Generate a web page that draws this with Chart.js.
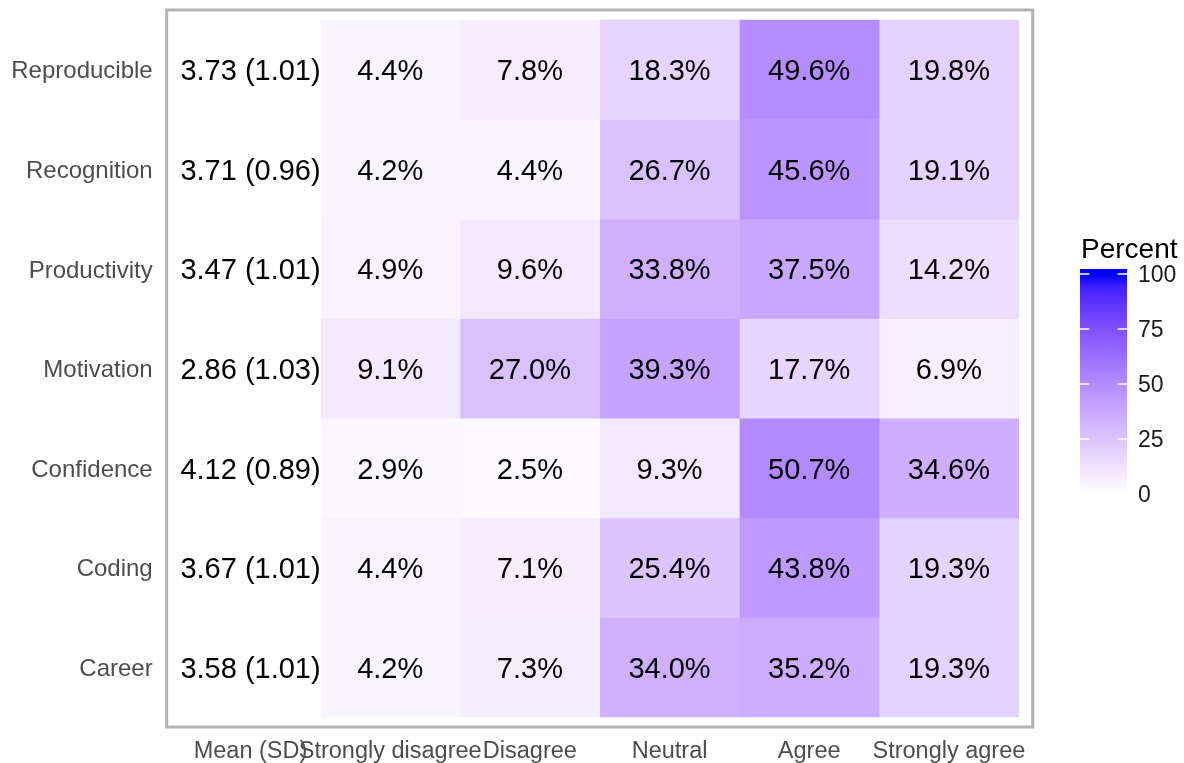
<!DOCTYPE html>
<html>
<head>
<meta charset="utf-8">
<script src="https://cdn.jsdelivr.net/npm/chart.js@4.4.1/dist/chart.umd.min.js"></script>
<style>
  body { margin: 0; background: #fff; }
  canvas { display: block; }
</style>
</head>
<body>
<canvas id="heat" width="1184" height="763"></canvas>
<script>
// Rows, bottom to top
const items = ['Career', 'Coding', 'Confidence', 'Motivation', 'Productivity', 'Recognition', 'Reproducible'];
const columns = ['Mean (SD)', 'Strongly disagree', 'Disagree', 'Neutral', 'Agree', 'Strongly agree'];

const means = [3.58, 3.67, 4.12, 2.86, 3.47, 3.71, 3.73];
const sds = [1.01, 1.01, 0.89, 1.03, 1.01, 0.96, 1.01];

const stronglyDisagree = [4.2, 4.4, 2.9, 9.1, 4.9, 4.2, 4.4];
const disagree = [7.3, 7.1, 2.5, 27.0, 9.6, 4.4, 7.8];
const neutral = [34.0, 25.4, 9.3, 39.3, 33.8, 26.7, 18.3];
const agree = [35.2, 43.8, 50.7, 17.7, 37.5, 45.6, 49.6];
const stronglyAgree = [19.3, 19.3, 34.6, 6.9, 14.2, 19.1, 19.8];

const legendTicks = [0, 25, 50, 75, 100];

const percentCols = [null, stronglyDisagree, disagree, neutral, agree, stronglyAgree];

// white -> blue, interpolated in Lab like ggplot's scale_fill_gradient
function fillColor(v) {
  if (v == null) return '#ffffff';
  const t = Math.max(0, Math.min(1, v / 100));
  const L = 100 + (32.297 - 100) * t;
  const a = 79.188 * t;
  const b = -107.86 * t;
  const fy = (L + 16) / 116, fx = fy + a / 500, fz = fy - b / 200;
  const inv = f => (f ** 3 > 0.008856 ? f ** 3 : (f - 16 / 116) / 7.787);
  const X = 0.95047 * inv(fx), Y = inv(fy), Z = 1.08883 * inv(fz);
  const lin = [
    3.2406 * X - 1.5372 * Y - 0.4986 * Z,
    -0.9689 * X + 1.8758 * Y + 0.0415 * Z,
    0.0557 * X - 0.2040 * Y + 1.0570 * Z
  ];
  const rgb = lin.map(c => {
    c = c <= 0.0031308 ? 12.92 * c : 1.055 * Math.pow(c, 1 / 2.4) - 0.055;
    return Math.round(Math.max(0, Math.min(1, c)) * 255);
  });
  return `rgb(${rgb[0]},${rgb[1]},${rgb[2]})`;
}

function cellText(col, row) {
  if (col === 0) return means[row].toFixed(2) + ' (' + sds[row].toFixed(2) + ')';
  return percentCols[col][row].toFixed(1) + '%';
}

const datasets = columns.map((name, c) => ({
  label: name,
  data: items.map((_, r) => ({ x: c, y: [r - 0.5, r + 0.5] })),
  backgroundColor: items.map((_, r) => fillColor(c === 0 ? null : percentCols[c][r])),
  borderWidth: 0,
  grouped: false,
  barPercentage: 1,
  categoryPercentage: 1
}));

const FONT = "'Liberation Sans', Arial, sans-serif";

// Tile labels
const cellLabels = {
  id: 'cellLabels',
  afterDatasetsDraw(chart) {
    const ctx = chart.ctx;
    ctx.save();
    ctx.font = '29px ' + FONT;
    ctx.fillStyle = '#000000';
    ctx.textAlign = 'center';
    ctx.textBaseline = 'middle';
    chart.data.datasets.forEach((ds, c) => {
      chart.getDatasetMeta(c).data.forEach((bar, r) => {
        ctx.fillText(cellText(c, r), bar.x, (bar.y + bar.base) / 2 + 2.5);
      });
    });
    ctx.restore();
  }
};

// Panel border
const panelBorder = {
  id: 'panelBorder',
  afterDraw(chart) {
    const { left, top, width, height } = chart.chartArea;
    const ctx = chart.ctx;
    ctx.save();
    ctx.strokeStyle = '#b3b3b3';
    ctx.lineWidth = 3;
    ctx.strokeRect(left, top, width, height);
    ctx.restore();
  }
};

// Colour bar legend
const colorBar = {
  id: 'colorBar',
  afterDraw(chart) {
    const ctx = chart.ctx;
    const x0 = 1080, x1 = 1127, top = 269, bottom = 494;
    const yOf = v => bottom - v * 2.2;
    ctx.save();
    const grad = ctx.createLinearGradient(0, bottom, 0, yOf(100));
    for (let v = 0; v <= 100; v += 5) grad.addColorStop(v / 100, fillColor(v));
    ctx.fillStyle = grad;
    ctx.fillRect(x0, top, x1 - x0, bottom - top);
    ctx.strokeStyle = '#ffffff';
    ctx.lineWidth = 1.5;
    legendTicks.forEach(v => {
      const y = yOf(v);
      ctx.beginPath();
      ctx.moveTo(x0, y); ctx.lineTo(x0 + 9.4, y);
      ctx.moveTo(x1 - 9.4, y); ctx.lineTo(x1, y);
      ctx.stroke();
    });
    ctx.fillStyle = '#1a1a1a';
    ctx.font = '23px ' + FONT;
    ctx.textAlign = 'left';
    ctx.textBaseline = 'middle';
    legendTicks.forEach(v => ctx.fillText(String(v), 1138, yOf(v) + 2));
    ctx.fillStyle = '#000000';
    ctx.font = '28px ' + FONT;
    ctx.textBaseline = 'alphabetic';
    ctx.fillText('Percent', 1081, 258);
    ctx.restore();
  }
};

new Chart(document.getElementById('heat'), {
  type: 'bar',
  data: { datasets },
  options: {
    responsive: false,
    animation: false,
    events: [],
    layout: { padding: { top: 10, right: 151.3, left: 0, bottom: 0 } },
    plugins: { legend: { display: false }, tooltip: { enabled: false } },
    scales: {
      x: {
        type: 'linear',
        min: -0.6,
        max: 5.6,
        offset: false,
        grid: { display: false, drawTicks: false },
        border: { display: false },
        afterBuildTicks: axis => { axis.ticks = columns.map((_, i) => ({ value: i })); },
        afterFit: axis => {
          axis.height = 36;
          axis.paddingLeft = 0;
          axis.paddingRight = 0;
        },
        ticks: {
          autoSkip: false,
          maxRotation: 0,
          minRotation: 0,
          padding: 10,
          color: '#4d4d4d',
          font: { family: FONT, size: 23.5 },
          callback: v => columns[v]
        }
      },
      y: {
        type: 'linear',
        min: -0.6,
        max: 6.6,
        offset: false,
        grid: { display: false, drawTicks: false },
        border: { display: false },
        afterBuildTicks: axis => { axis.ticks = items.map((_, i) => ({ value: i })); },
        afterFit: axis => {
          axis.width = 166.7;
          axis.paddingTop = 0;
          axis.paddingBottom = 0;
        },
        ticks: {
          padding: 14,
          labelOffset: 2,
          color: '#4d4d4d',
          font: { family: FONT, size: 24 },
          callback: v => items[v]
        }
      }
    }
  },
  plugins: [cellLabels, panelBorder, colorBar]
});
</script>
</body>
</html>
